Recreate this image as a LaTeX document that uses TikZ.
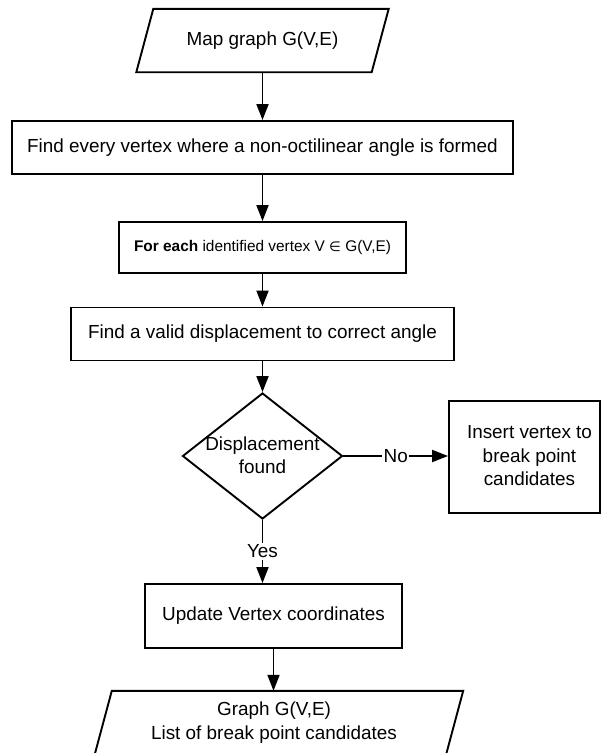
\documentclass[tikz,border=0pt]{standalone}
\usepackage{fontspec}
\setmainfont{Liberation Sans}
\newfontfamily\symbolfont{DejaVu Sans}
\usetikzlibrary{arrows.meta,shapes.geometric,calc}

\begin{document}
\begin{tikzpicture}[x=1pt,y=-1pt,
  every node/.style={font=\fontsize{18.9}{23.5}\selectfont, inner sep=0pt},
  box/.style={draw, line width=1.9pt, align=center},
  io/.style={align=center},
  conn/.style={line width=1.9pt, -{Triangle[length=16pt,width=12pt]}},
  lbl/.style={fill=white, inner sep=1.5pt},
  outline/.style={line width=1.9pt, line join=miter},
  ]
\useasboundingbox (0,0) rectangle (601,753);
\clip (0,0) rectangle (601,753);

% input data (parallelogram)
\node[io, minimum width=235pt, minimum height=63pt] (map) at (262.5,40.5) {Map graph G(V,E)};
\draw[outline] ($(map.north west)+(8.5,0)$) -- ($(map.north east)+(8.5,0)$)
  -- ($(map.south east)+(-8.5,0)$) -- ($(map.south west)+(-8.5,0)$) -- cycle;

% process steps
\node[box, minimum width=501pt, minimum height=53pt] (find) at (262.5,147.5)
  {Find every vertex where a non-octilinear angle is formed};
\node[box, minimum width=287pt, minimum height=51pt, font=\fontsize{15.4}{19}\selectfont] (each) at (262.5,247.5)
  {\textbf{For each} identified vertex V {\symbolfont\fontsize{13.5}{17}\selectfont ∈} G(V,E)};
\node[box, minimum width=383pt, minimum height=53pt] (valid) at (262.5,334)
  {Find a valid displacement to correct angle};

% decision
\node[diamond, draw, line width=1.9pt, minimum width=160pt, minimum height=126pt] (dec) at (262.5,456) {};
\node[align=center] (dectext) at (262.5,455) {Displacement\\found};

\node[draw, line width=1.9pt, minimum width=151pt, minimum height=112pt] (ins) at (524.5,457) {};
\node[align=center] (instext) at (529.5,456) {Insert vertex to\\break point\\candidates};

\node[box, minimum width=257pt, minimum height=64pt] (upd) at (273.5,616)
  {Update Vertex coordinates};

% output data (parallelogram)
\node[io, minimum width=351pt, minimum height=63pt] (out) at (274,722.5)
  {Graph G(V,E)\\List of break point candidates};
\draw[outline] ($(out.north west)+(13.5,0)$) -- ($(out.north east)+(13.5,0)$)
  -- ($(out.south east)+(-3.5,0)$) -- ($(out.south west)+(-3.5,0)$) -- cycle;

% connectors
\draw[conn] (map.south) -- (map.south |- find.north);
\draw[conn] (find.south) -- (find.south |- each.north);
\draw[conn] (each.south) -- (each.south |- valid.north);
\draw[conn] (valid.south) -- (dec.north);
\draw[conn] (dec.east) -- node[lbl] {No} (dec.east -| ins.west);
\draw[conn] (dec.south) -- node[lbl] {Yes} (dec.south |- upd.north);
\draw[conn] (upd.south) -- (upd.south |- out.north);
\end{tikzpicture}
\end{document}
